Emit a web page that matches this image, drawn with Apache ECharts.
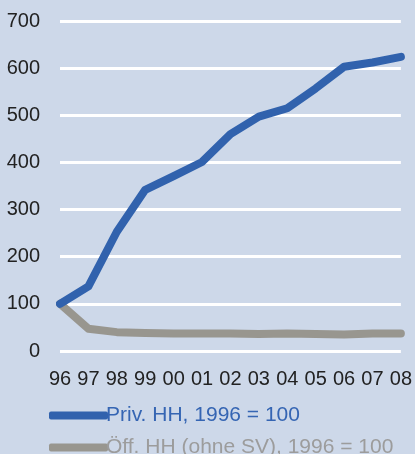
<!DOCTYPE html>
<html>
<head>
<meta charset="utf-8">
<script src="https://cdn.jsdelivr.net/npm/echarts@6/dist/echarts.min.js"></script>
<style>
  html, body { margin: 0; padding: 0; background: #cdd8e9; }
  #chart { width: 415px; height: 454px; }
</style>
</head>
<body>
<div id="chart"></div>
<script>
// Jahre (x-Achse)
const years = ['96', '97', '98', '99', '00', '01', '02', '03', '04', '05', '06', '07', '08']
// Priv. HH, 1996 = 100
const privHH = [100, 137, 253, 342, 371, 401, 460, 497, 515, 557, 603, 612, 624]
// Öff. HH (ohne SV), 1996 = 100
const oeffHH = [100, 47, 40, 38, 37, 37, 37, 36, 37, 36, 35, 37, 37]

const seriesNames = ['Priv. HH, 1996 = 100', 'Öff. HH (ohne SV), 1996 = 100']

const chart = echarts.init(document.getElementById('chart'))

// zwei Legenden untereinander, damit sie nicht umbrechen
const legendBase = {
  orient: 'vertical',
  left: 44,
  itemWidth: 59,
  itemHeight: 8,
  icon: 'roundRect',
  textStyle: { fontSize: 21, padding: [0, 0, 0, -7] }
}

chart.setOption({
  backgroundColor: '#cdd8e9',
  animation: false,
  textStyle: { fontFamily: 'Liberation Sans, Arial, sans-serif' },
  grid: { left: 60, right: 14, top: 21, bottom: 103 },
  legend: [
    Object.assign({}, legendBase, {
      top: 400,
      data: [{ name: seriesNames[0], textStyle: { color: '#3565b3' } }]
    }),
    Object.assign({}, legendBase, {
      top: 432,
      data: [{ name: seriesNames[1], textStyle: { color: '#9c9c9c' } }]
    })
  ],
  xAxis: {
    type: 'category',
    data: years,
    boundaryGap: false,
    axisLine: { show: false },
    axisTick: { show: false },
    axisLabel: { color: '#222', fontSize: 20, margin: 18, interval: 0 }
  },
  yAxis: {
    type: 'value',
    min: 0,
    max: 700,
    interval: 100,
    axisLine: { show: false },
    axisTick: { show: false },
    axisLabel: { color: '#222', fontSize: 20, margin: 20 },
    splitLine: { lineStyle: { color: '#ffffff', width: 3 } }
  },
  series: [
    {
      name: seriesNames[0],
      type: 'line',
      data: privHH,
      symbol: 'none',
      color: '#3162ad',
      lineStyle: { width: 8, cap: 'round', join: 'round' },
      z: 3
    },
    {
      name: seriesNames[1],
      type: 'line',
      data: oeffHH,
      symbol: 'none',
      color: '#98968f',
      lineStyle: { width: 8, cap: 'round', join: 'round' },
      z: 2
    }
  ]
})
</script>
</body>
</html>
